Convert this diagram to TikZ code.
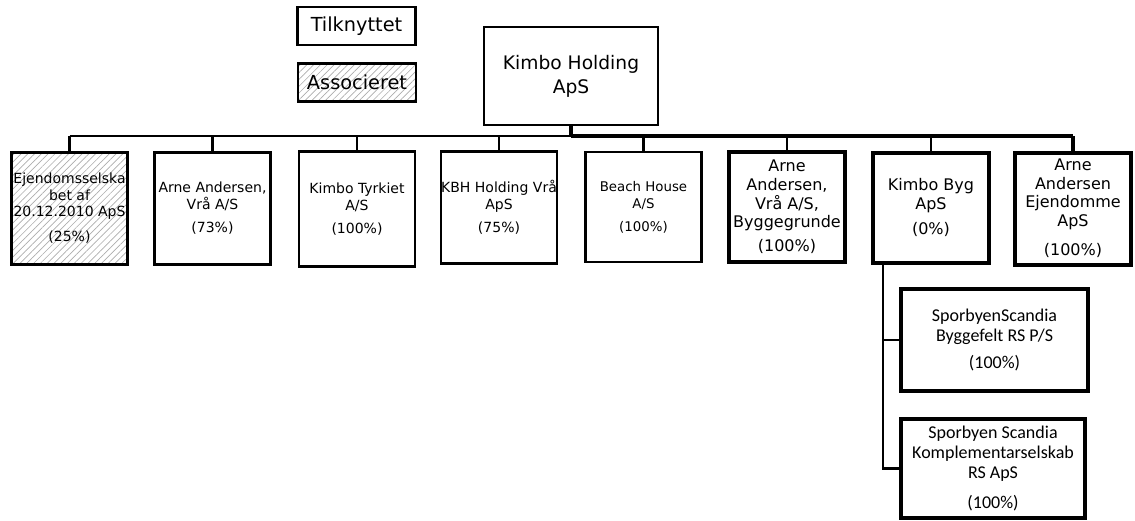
\documentclass[tikz,border=0pt]{standalone}
\usepackage{fontspec}
\setmainfont{DejaVu Sans}
\newfontfamily\carlito{Carlito}
\usetikzlibrary{patterns.meta,calc}
\tikzset{
  hatch/.style={pattern={Lines[angle=45,distance=3.6pt,line width=0.5pt]},pattern color=gray!65},
  legendbox/.style={draw,line width=2pt,inner sep=0pt,minimum width=88.5pt,minimum height=28.5pt,font=\fontsize{14.5}{17}\selectfont},
  holdbox/.style={draw,line width=1.7pt,inner sep=0pt,align=center,minimum width=130.5pt,minimum height=73.3pt,font=\fontsize{14}{18}\selectfont},
  cbox/.style={draw,line width=2pt,inner sep=0pt,align=center,minimum width=87.2pt,minimum height=84.2pt,font=\fontsize{10.5}{12.75}\selectfont},
  tbox/.style={draw,line width=3pt,inner sep=0pt,align=center,minimum width=87pt,minimum height=82.5pt,font=\fontsize{12}{14}\selectfont},
  subbox/.style={draw,line width=3pt,inner sep=0pt,align=center,font=\carlito\fontsize{13.5}{15}\selectfont},
  thinline/.style={line width=1.7pt},
  thickline/.style={line width=2.5pt}
}
\begin{document}
\begin{tikzpicture}[x=0.75pt,y=-0.75pt]
\useasboundingbox (0,0) rectangle (1135,521);
% legend
\node[legendbox] (leg1) at (356.5,26) {Tilknyttet};
\node[legendbox,hatch] (leg2) at (357,82.5) {Associeret};
% holding
\node[holdbox] (hold) at (571,76) {Kimbo Holding\\ApS};
% first row
\node[cbox,hatch] (b1) at (69.5,208.5) {Ejendomsselska\\[-0.4pt]bet af\\[-0.4pt]20.12.2010 ApS\\[6pt](25\%)};
\node[cbox] (b2) at (212.5,208.5) {Arne Andersen,\\Vrå A/S\\[4.5pt](73\%)};
\node[cbox,minimum height=86.3pt] (b3) at (357,209) {Kimbo Tyrkiet\\A/S\\[4.5pt](100\%)};
\node[cbox] (b4) at (499,207.5) {KBH Holding Vrå\\ApS\\[4.5pt](75\%)};
\node[cbox,font=\fontsize{10}{12.75}\selectfont,minimum height=82.5pt] (b5) at (643.5,207) {Beach House\\A/S\\[4.5pt](100\%)};
\node[tbox] (b6) at (787,207) {Arne\\Andersen,\\Vrå A/S,\\Byggegrunde\\[4pt](100\%)};
\node[tbox] (b7) at (931,207.5) {Kimbo Byg\\ApS\\[4.5pt](0\%)};
\node[tbox,minimum height=84pt] (b8) at (1073,208.5) {Arne\\Andersen\\Ejendomme\\ApS\\[8pt](100\%)};
% sub boxes
\node[subbox,minimum width=140.25pt,minimum height=76.5pt] (s1) at (994.5,340) {SporbyenScandia\\Byggefelt RS P/S\\[5pt](100\%)};
\node[subbox,minimum width=138pt,minimum height=74.25pt] (s2) at (993,468.5) {Sporbyen Scandia\\Komplementarselskab\\RS ApS\\[8pt](100\%)};
% bus
\coordinate (busy) at (0,136);
\draw[thinline] (b1.north |- busy) -- (hold.south |- busy);
\draw[thickline] (hold.south |- busy) -- (b8.north |- busy);
\draw[thickline] (hold.south) -- (hold.south |- busy);
\foreach \b in {b1,b2,b3,b4,b5,b6,b7}{
  \draw[thinline] (\b.north) -- (\b.north |- busy);
}
\draw[thickline] (b8.north) -- (b8.north |- busy);
% Kimbo Byg branch
\coordinate (br) at ($(b7.south west)+(12,0)$);
\draw[line width=2.2pt] (br) |- (s1.west);
\draw[line width=2.2pt] (br) |- (s2.west);
\end{tikzpicture}
\end{document}
